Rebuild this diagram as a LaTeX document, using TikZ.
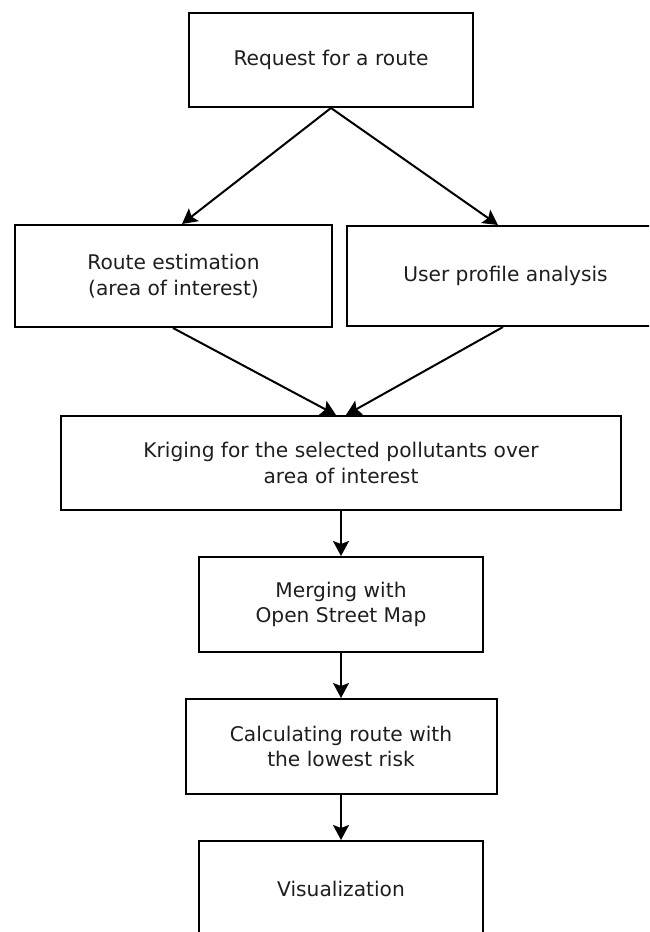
\documentclass[tikz,border=0pt]{standalone}
\usepackage{fontspec}
\setmainfont{DejaVu Sans}
\usetikzlibrary{arrows.meta}
\definecolor{txt}{HTML}{1E1E1E}
\begin{document}
\begin{tikzpicture}[x=1pt,y=-1pt,
  box/.style={draw=black, line width=2pt, inner sep=0pt, align=center,
    text=txt, font=\fontsize{20.2}{25.5}\selectfont},
  arr/.style={line width=2pt, -{Stealth[length=15pt,width=16pt,inset=3pt]}}]
\useasboundingbox (0,0) rectangle (649,932);
\clip (0,0) rectangle (649,932);
\node[box, minimum width=284pt, minimum height=94pt] (b1) at (331,60) {Request for a route};
\node[box, minimum width=317pt, minimum height=102pt] (b2) at (173.5,276) {Route estimation\\(area of interest)};
\node[box, minimum width=317pt, minimum height=100pt] (b3) at (505.5,276) {User profile analysis};
\node[box, minimum width=560pt, minimum height=94pt] (b4) at (341,463) {Kriging for the selected pollutants over\\area of interest};
\node[box, minimum width=284pt, minimum height=95pt] (b5) at (341,604.5) {Merging with\\Open Street Map};
\node[box, minimum width=311pt, minimum height=95pt] (b6) at (341,746.5) {Calculating route with\\the lowest risk};
\node[box, minimum width=284pt, minimum height=95pt] (b7) at (341,888.5) {Visualization};
\draw[arr] (b1.south) -- ([xshift=8.5pt]b2.north);
\draw[arr] (b1.south) -- ([xshift=-7.5pt]b3.north);
\draw[arr] ([xshift=-0.5pt]b2.south) -- ([xshift=-5pt]b4.north);
\draw[arr] ([xshift=-2.5pt]b3.south) -- ([xshift=5pt]b4.north);
\draw[arr] (b4.south) -- (b5.north);
\draw[arr] (b5.south) -- (b6.north);
\draw[arr] (b6.south) -- (b7.north);
\end{tikzpicture}
\end{document}
